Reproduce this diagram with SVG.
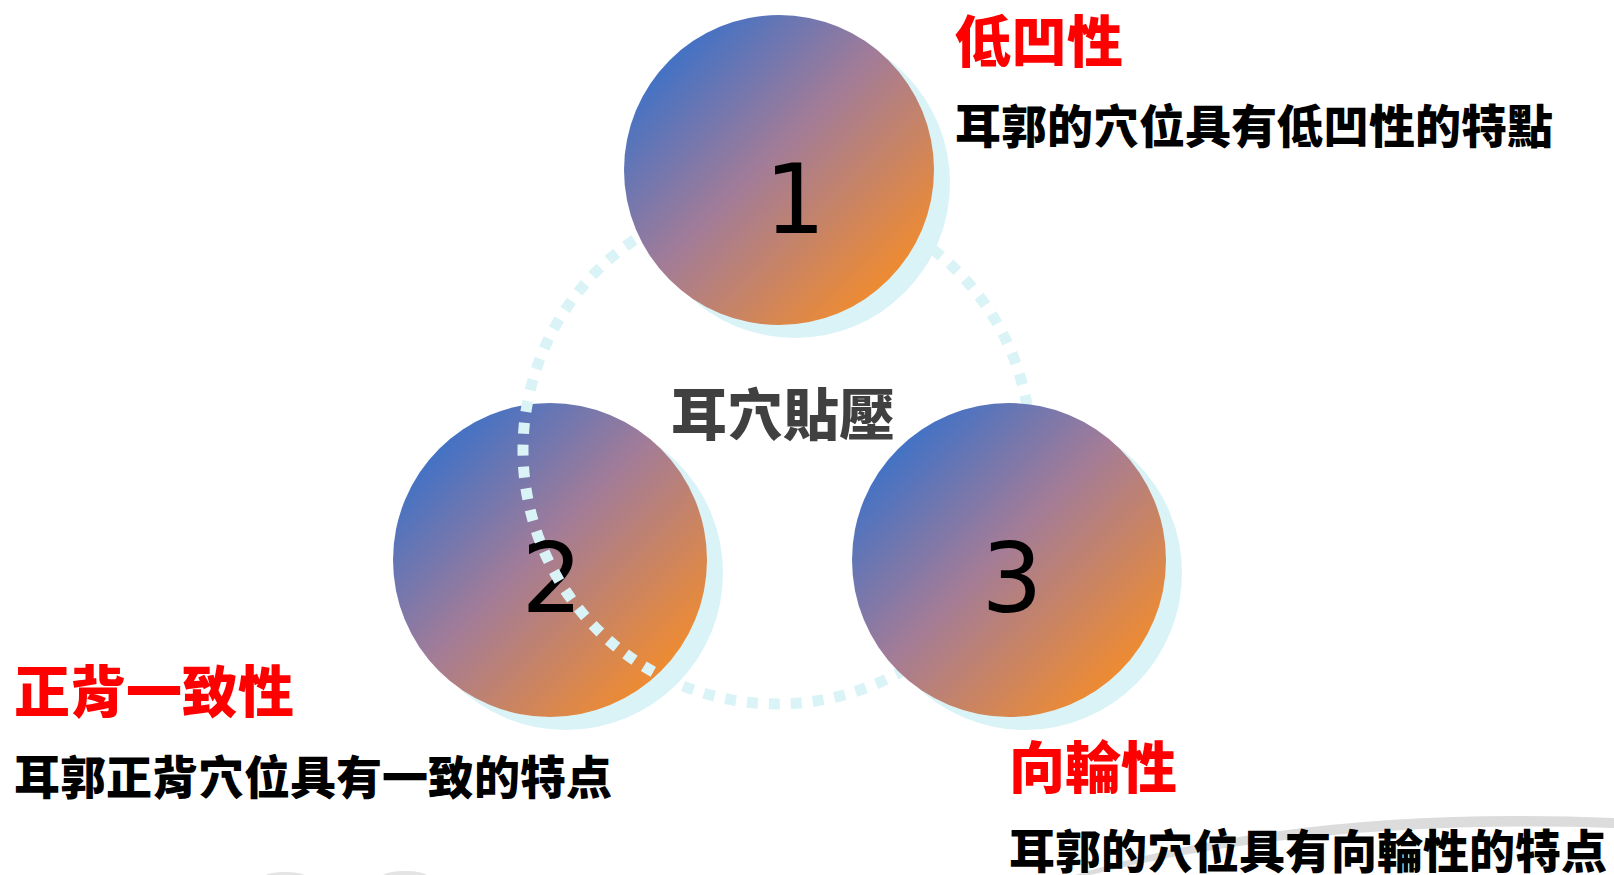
<svg xmlns="http://www.w3.org/2000/svg" width="1614" height="875" viewBox="0 0 1614 875">
<defs>
<linearGradient id="g" x1="0.15" y1="0.15" x2="0.85" y2="0.85">
<stop offset="0" stop-color="#4472C4"/>
<stop offset="0.45" stop-color="#A27C98"/>
<stop offset="1" stop-color="#ED8B33"/>
</linearGradient>
<style>
.sh{fill:#DAF3F7}
.c{fill:url(#g)}
.num{font-family:"DejaVu Sans",sans-serif;font-size:96px;fill:#000;text-anchor:middle}
.t{font-family:"Noto Sans CJK TC","Noto Sans CJK SC",sans-serif;font-weight:900;font-size:56px;fill:#FF0000}
.d{font-family:"Noto Sans CJK TC","Noto Sans CJK SC",sans-serif;font-weight:900;font-size:46px;fill:#000}
.ring{fill:none;stroke:#DAF3F7;stroke-width:11;stroke-dasharray:11 11}
</style>
</defs>
<rect width="1614" height="875" fill="#FFFFFF"/>
<path d="M1075 875 Q1300 805 1614 818 L1614 828 Q1320 818 1090 875 Z" fill="#DCDCDC"/>
<ellipse cx="285" cy="876" rx="20" ry="4" fill="#E4E4E4"/>
<ellipse cx="405" cy="876" rx="22" ry="5" fill="#E4E4E4"/>
<g id="node2">
<circle class="sh" cx="566" cy="573" r="157"/>
<circle class="c" cx="550" cy="560" r="157"/>
<text class="num" x="552" y="612">2</text>
</g>
<g id="connectors">
<circle class="ring" cx="777" cy="450" r="254"/>
</g>
<g id="node1">
<circle class="sh" cx="795" cy="183" r="155"/>
<circle class="c" cx="779" cy="170" r="155"/>
<text class="num" x="795" y="233">1</text>
</g>
<g id="node3">
<circle class="sh" cx="1025" cy="573" r="157"/>
<circle class="c" cx="1009" cy="560" r="157"/>
<text class="num" x="1012" y="612">3</text>
</g>
<g id="center">
<text x="671" y="435" font-family="Noto Sans CJK TC, Noto Sans CJK SC, sans-serif" font-weight="900" font-size="56" fill="#404040">耳穴貼壓</text>
</g>
<g id="label1">
<text class="t" x="955" y="62">低凹性</text>
<text class="d" x="955" y="143">耳郭的穴位具有低凹性的特點</text>
</g>
<g id="label2">
<text class="t" x="14" y="712">正背一致性</text>
<text class="d" x="14" y="794">耳郭正背穴位具有一致的特点</text>
</g>
<g id="label3">
<text class="t" x="1009" y="788">向輪性</text>
<text class="d" x="1009" y="868">耳郭的穴位具有向輪性的特点</text>
</g>
</svg>
